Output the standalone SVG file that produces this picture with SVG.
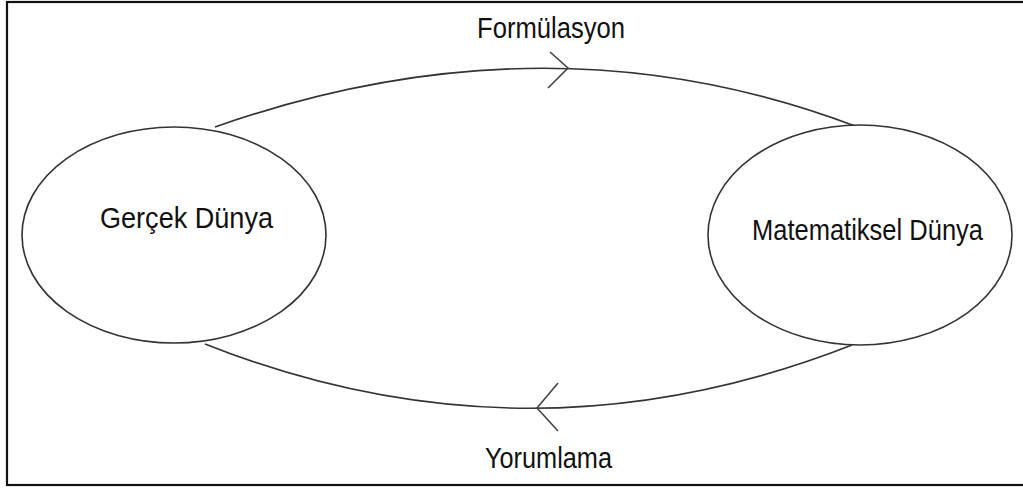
<svg xmlns="http://www.w3.org/2000/svg" width="1023" height="488" viewBox="0 0 1023 488">
  <style>
    .frame { fill: #ffffff; stroke: #111111; stroke-width: 2.2; }
    .node { fill: #ffffff; stroke: #333333; stroke-width: 1.6; }
    .edge { fill: none; stroke: #333333; stroke-width: 1.6; }
    .head { fill: none; stroke: #444444; stroke-width: 1.6; stroke-linejoin: miter; }
    .label { font-family: "Liberation Sans", Arial, sans-serif; font-size: 29px; fill: #111111; }
  </style>

  <!-- outer frame -->
  <rect class="frame" x="7" y="2" width="1030" height="483"/>

  <g id="connectors">
    <!-- Formülasyon: real world to mathematical world -->
    <path class="edge" d="M215,127 Q548,10 855,126"/>
    <polyline class="head" points="550,52 568,68 548,88"/>
    <!-- Yorumlama: mathematical world back to real world -->
    <path class="edge" d="M205,344 Q528,472 852,345"/>
    <polyline class="head" points="558,383 537,408 558,431"/>
  </g>

  <g id="label-formulasyon">
    <text class="label" x="477" y="38" textLength="148" lengthAdjust="spacingAndGlyphs">Formülasyon</text>
  </g>
  <g id="label-yorumlama">
    <text class="label" x="485" y="468" textLength="127" lengthAdjust="spacingAndGlyphs">Yorumlama</text>
  </g>

  <g id="gercek-dunya">
    <ellipse class="node" cx="174" cy="235" rx="152" ry="108"/>
    <text class="label" x="100" y="228" textLength="173" lengthAdjust="spacingAndGlyphs">Gerçek Dünya</text>
  </g>

  <g id="matematiksel-dunya">
    <ellipse class="node" cx="860" cy="235" rx="152" ry="110"/>
    <text class="label" x="752" y="240" textLength="231" lengthAdjust="spacingAndGlyphs">Matematiksel Dünya</text>
  </g>
</svg>
